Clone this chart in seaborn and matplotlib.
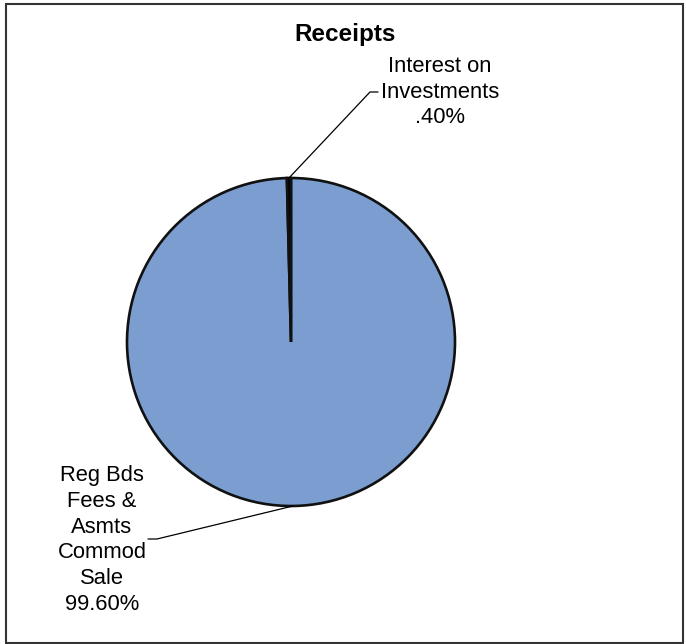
import numpy as np
import matplotlib
matplotlib.use("Agg")
import matplotlib.pyplot as plt
import seaborn as sns

# data
labels = ["Reg Bds\nFees &\nAsmts\nCommod\nSale", "Interest on\nInvestments"]
shares = [99.60, 0.40]
pct_text = ["99.60%", ".40%"]
colors = ["#7b9dcf", "#000000"]

sns.set_theme(style="white")
plt.rcParams["font.family"] = ["Liberation Sans", "DejaVu Sans"]

W, H = 686, 644
fig = plt.figure(figsize=(W / 100, H / 100), dpi=100)
ax = fig.add_axes([0, 0, 1, 1])

wedges, _ = ax.pie(shares, colors=colors, startangle=90, counterclock=False,
                   radius=1.0,
                   wedgeprops=dict(edgecolor="#111111", linewidth=1.9))

# pie centre at pixel (291, 342), radius 164 px -> 1 data unit = 164 px
cx, cy, r = 291, 342, 164
ax.set_xlim(-cx / r, (W - cx) / r)
ax.set_ylim(-(H - cy) / r, cy / r)
ax.set_aspect("equal")
ax.axis("off")


def px(x, y):
    # pixel coords of the reference -> data coords
    return (x - cx) / r, (cy - y) / r


# label boxes (pixel centres) and elbow of the leader lines
label_pos = [(102, 540), (440, 92)]
elbows = [((157, 539), (148, 539)), ((370, 92), (378, 92))]

for w, lab, pct, (lx, ly), (e1, e2) in zip(wedges, labels, pct_text,
                                           label_pos, elbows):
    ang = np.deg2rad((w.theta1 + w.theta2) / 2)
    ax_x, ax_y = np.cos(ang), np.sin(ang)
    p1 = px(*e1)
    p2 = px(*e2)
    ax.plot([ax_x, p1[0], p2[0]], [ax_y, p1[1], p2[1]], color="black",
            lw=0.9, clip_on=False)
    tx, ty = px(lx, ly)
    ax.text(tx, ty, lab + "\n" + pct, ha="center", va="center",
            fontsize=15.8, linespacing=1.29, color="black")

fig.text(345 / W, 1 - 35 / H, "Receipts", ha="center", va="center",
         fontsize=17.5, fontweight="bold", color="black")

# outer frame
fig.patches.append(plt.Rectangle((6 / W, 1 / H), 677 / W, 639 / H,
                                 transform=fig.transFigure, fill=False,
                                 edgecolor="#333333", lw=1.5))

fig.savefig("out.png", dpi=100, facecolor="white")
